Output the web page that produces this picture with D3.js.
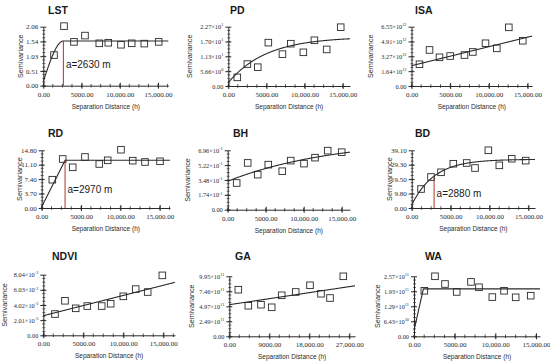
<!DOCTYPE html>
<html><head><meta charset="utf-8">
<script src="https://cdn.jsdelivr.net/npm/d3@7"></script>
<style>body{margin:0;background:#fff}svg{display:block}</style>
</head><body>
<svg id="chart" width="550" height="363"></svg>
<script>
// ---------------- data ----------------
const panelNames = ["LST","PD","ISA","RD","BH","BD","NDVI","GA","WA"];

const lstLag = [1400,2710,4010,5450,7320,8500,10160,11560,13210,15090];
const lstGamma = [1.07,2.08,1.53,1.75,1.48,1.50,1.43,1.48,1.47,1.53];
const pdLag = [1180,2500,3860,5250,7100,8190,9840,11290,12900,14740];
const pdGamma = [0.33,0.84,0.72,1.66,1.22,1.62,1.29,1.75,1.40,2.25];
const isaLag = [1030,2330,3620,5000,6850,7930,9570,11030,12580,14390];
const isaGamma = [2.40,3.98,3.17,3.31,3.42,3.76,4.72,4.16,6.48,5.00];
const rdLag = [1350,2670,3940,5500,7320,8390,10080,11570,13130,15040];
const rdGamma = [7.26,12.57,10.44,13.08,11.29,12.23,14.95,12.14,11.80,11.98];
const bhLag = [1180,2630,3950,5340,7180,8290,10040,11490,13160,15000];
const bhGamma = [3.13,5.48,4.11,5.28,4.51,5.75,5.40,6.10,6.92,6.74];
const bdLag = [1200,2480,3770,5350,7070,8140,9850,11260,12860,14650];
const bdGamma = [12.87,21.0,24.2,30.0,30.5,27.1,39.1,28.9,33.4,32.1];
const ndviLag = [1460,2710,4050,5500,7300,8420,10000,11550,13050,14880];
const ndviGamma = [2.82,4.58,3.58,3.88,3.88,4.19,5.17,6.13,5.74,7.95];
const gaLag = [2030,4280,7130,9540,11790,14940,18160,20630,22660,25650];
const gaGamma = [7.73,5.07,5.24,4.81,6.80,7.35,8.46,7.06,6.35,9.95];
const waLag = [1270,2580,3810,5250,7010,7990,9630,11070,12500,14350];
const waGamma = [1.95,2.57,2.24,1.90,2.33,2.10,1.68,1.95,1.67,1.74];

const lagSeries = [lstLag,pdLag,isaLag,rdLag,bhLag,bdLag,ndviLag,gaLag,waLag];
const gammaSeries = [lstGamma,pdGamma,isaGamma,rdGamma,bhGamma,bdGamma,ndviGamma,gaGamma,waGamma];

// fitted models: sph = spherical, exp = exponential, lin = linear, lsill = linear to sill
const modelType = ["sph","exp","lin","lsill","exp","exp","lin","lin","lsill"];
const modelNugget = [0.15,0.13,2.24,0.3,3.33,2.0,2.6,5.24,0.25];
const modelSill = [1.41,1.75,2.1e-4,11.93,5.0,31.0,2.69e-4,1.11e-4,1.78]; // partial sill or slope
const modelRange = [2630,5000,0,2970,14000,2880,0,0,1150];
const rangeMarked = [2630,null,null,2970,null,2880,null,null,null];

const yMaxVals = [2.06,2.27,6.55,14.80,6.96,39.10,8.04,9.95,2.57];
const lstTicks = ["0.00","0.51","1.03","1.54","2.06"];
const pdTicks = ["0.00","5.66×10^0","1.13×10^1","1.70×10^1","2.27×10^1"];
const isaTicks = ["0.00","1.64×10^12","3.27×10^12","4.91×10^12","6.55×10^12"];
const rdTicks = ["0.00","3.70","7.40","11.10","14.80"];
const bhTicks = ["0.00","1.74×10^-1","3.48×10^-1","5.22×10^-1","6.96×10^-1"];
const bdTicks = ["0.00","9.80","19.50","29.30","39.10"];
const ndviTicks = ["0.00","2.01×10^-3","4.02×10^-3","6.03×10^-3","8.04×10^-3"];
const gaTicks = ["0.00","2.49×10^11","4.97×10^11","7.46×10^11","9.95×10^11"];
const waTicks = ["0.00","6.43×10^10","1.29×10^11","1.93×10^11","2.57×10^11"];
const yTickLabels = [lstTicks,pdTicks,isaTicks,rdTicks,bhTicks,bdTicks,ndviTicks,gaTicks,waTicks];

const xTicks15 = [0,5000,10000,15000];
const xLabels15 = ["0.00","5000.00","10,000.00","15,000.00"];
const xTicks27 = [0,9000,18000,27000];
const xLabels27 = ["0.00","9000.00","18,000.00","27,000.00"];

const yAxisTitle = "Semivariance";
const xAxisTitle = "Separation Distance (h)";

// ---------------- layout ----------------
const originX = [43.3,228.3,411.5,41.7,227.7,411.7,43.3,229.3,414];
const plotTop = [26.7,26.7,26.7,150.3,150.3,150.3,274.7,276.3,276.3];
const plotBot = [85.7,86,86,208,209.7,208,335.3,336.3,336.3];
const pxPerUnit = [114.7/15000,114.4/15000,116/15000,118/15000,114/15000,116.7/15000,120/15000,120/27000,122/15000];
const xEnd = [16350,15960,15600,16300,16090,15850,16460,28280,15500];
const titleX = [48,230,415,48,233,415,52,235,425];
const titleY = [13.5,13.5,13.5,136.5,136.5,136.5,259.5,259.5,259.5];
const yTitleDx = [-22,-38,-40,-22,-40,-22,-38,-37,-36];
const annotDy = [-18,-15.5,-11.5];

const svg = d3.select("#chart");
const ink = "#2a2a2a";

function modelVal(i,h){
  const t = modelType[i], c0 = modelNugget[i], c = modelSill[i], a = modelRange[i];
  if (t==="sph") { if (h>=a) return c0+c; const r=h/a; return c0 + c*(1.5*r-0.5*r*r*r); }
  if (t==="exp") return c0 + c*(1-Math.exp(-h/a));
  if (t==="lin") return c0 + c*h;
  if (t==="lsill") return h>=a ? c0+c : c0 + c*h/a;
  return c0;
}

function setLabel(sel, s){
  sel.text(null);
  const parts = s.split("^");
  sel.append("tspan").text(parts[0]);
  if (parts.length>1){
    sel.append("tspan").attr("dy",-2.8).attr("font-size",4.3).text(parts[1]);
  }
}

let annotIdx = 0;
panelNames.forEach((name,i)=>{
  const g = svg.append("g");
  const ox = originX[i];
  const x = d3.scaleLinear().domain([0,xEnd[i]]).range([ox, ox + xEnd[i]*pxPerUnit[i]]);
  const y = d3.scaleLinear().domain([0,yMaxVals[i]]).range([plotBot[i], plotTop[i]]);
  const isGA = name==="GA";
  const xt = isGA ? xTicks27 : xTicks15;
  const xl = isGA ? xLabels27 : xLabels15;
  const minorStep = isGA ? 2250 : 1250;
  const hasExp = yTickLabels[i].some(s=>s.includes("^"));

  // minor ticks
  g.selectAll(".xm").data(d3.range(0, xEnd[i], minorStep)).join("line")
    .attr("x1",d=>x(d)).attr("x2",d=>x(d)).attr("y1",plotBot[i]-1.8).attr("y2",plotBot[i]+1.8)
    .attr("stroke",ink).attr("stroke-width",0.8);
  g.selectAll(".ym").data(d3.range(0,16).map(k=>yMaxVals[i]*k/16)).join("line")
    .attr("x1",ox-1).attr("x2",ox+2).attr("y1",d=>y(d)).attr("y2",d=>y(d))
    .attr("stroke",ink).attr("stroke-width",0.7);

  // axes
  const yVals = yTickLabels[i].map((_,k)=>yMaxVals[i]*k/4);
  const ya = g.append("g").attr("transform",`translate(${ox},0)`)
    .call(d3.axisLeft(y).tickValues(yVals).tickSizeInner(3).tickSizeOuter(0).tickPadding(2)
      .tickFormat((d,k)=>yTickLabels[i][k]));
  ya.selectAll(".tick line").attr("x1",3).attr("stroke",ink);
  ya.select(".domain").attr("stroke",ink);
  ya.selectAll(".tick text").attr("font-family","'Liberation Serif','Times New Roman',serif")
    .attr("font-size",hasExp?6.3:7).attr("fill",ink)
    .each(function(d,k){ setLabel(d3.select(this), yTickLabels[i][k]); });

  const xa = g.append("g").attr("transform",`translate(0,${plotBot[i]})`)
    .call(d3.axisBottom(x).tickValues(xt).tickSizeInner(3).tickSizeOuter(0).tickPadding(3)
      .tickFormat((d,k)=>xl[k]));
  xa.selectAll(".tick line").attr("y1",-3).attr("stroke",ink);
  xa.select(".domain").attr("stroke",ink);
  xa.selectAll(".tick text").attr("font-family","'Liberation Serif','Times New Roman',serif")
    .attr("font-size",7).attr("fill",ink);

  // axis titles
  g.append("text").attr("transform",`translate(${ox+yTitleDx[i]},${(plotTop[i]+plotBot[i])/2}) rotate(-90)`)
    .attr("text-anchor","middle").attr("dominant-baseline","middle")
    .attr("font-family","'Liberation Sans',Arial,sans-serif").attr("font-size",7.2).attr("fill",ink)
    .text(yAxisTitle);
  g.append("text").attr("x",(x.range()[0]+x.range()[1])/2).attr("y",plotBot[i]+23)
    .attr("text-anchor","middle").attr("font-family","'Liberation Sans',Arial,sans-serif")
    .attr("font-size",6.5).attr("fill",ink).text(xAxisTitle);

  // panel title
  g.append("text").attr("x",titleX[i]).attr("y",titleY[i])
    .attr("font-family","'Liberation Sans',Arial,sans-serif").attr("font-size",10.5)
    .attr("font-weight","bold").attr("fill","#1a1a1a").text(name);

  // model curve
  const hs = d3.range(0, xEnd[i], xEnd[i]/300).concat([xEnd[i]]);
  if (modelRange[i] && (modelType[i]==="sph"||modelType[i]==="lsill")) hs.push(modelRange[i]);
  hs.sort((a,b)=>a-b);
  g.append("path").datum(hs)
    .attr("d", d3.line().x(h=>x(h)).y(h=>y(modelVal(i,h))))
    .attr("fill","none").attr("stroke",ink).attr("stroke-width",1.1);

  // range marker
  if (rangeMarked[i]!==null){
    const a = rangeMarked[i];
    g.append("line").attr("x1",x(a)).attr("x2",x(a)).attr("y1",y(modelVal(i,a))).attr("y2",y(0))
      .attr("stroke","#b34a3a").attr("stroke-width",1.1);
    g.append("text").attr("x",x(a)+2.5).attr("y",plotBot[i]+annotDy[annotIdx++])
      .attr("font-family","'Liberation Sans',Arial,sans-serif").attr("font-size",10)
      .attr("fill","#1a1a1a").text(`a=${a} m`);
  }

  // semivariance points
  g.selectAll(".pt").data(lagSeries[i].map((h,k)=>[h,gammaSeries[i][k]])).join("rect")
    .attr("x",d=>x(d[0])-3.3).attr("y",d=>y(d[1])-3.3).attr("width",6.6).attr("height",6.6)
    .attr("fill","none").attr("stroke",ink).attr("stroke-width",0.9);
});
</script>
</body></html>
